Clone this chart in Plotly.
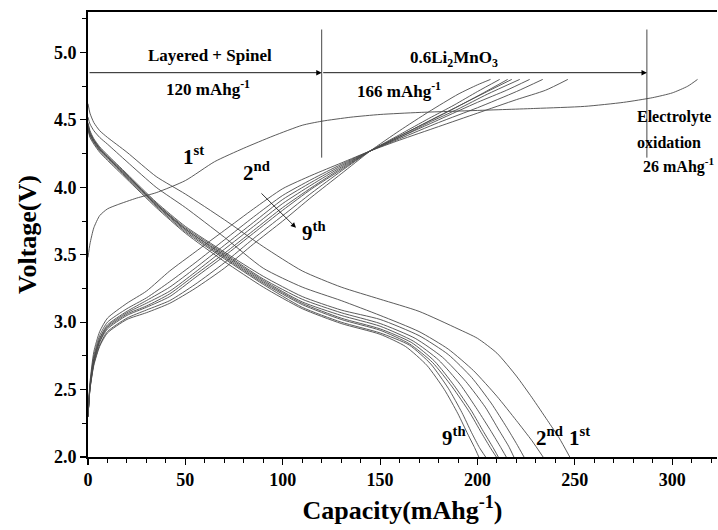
import plotly.graph_objects as go

# ---------------- data ----------------
# Discharge curves, cycles 1..9 : capacity (mAh/g) and voltage (V)
d1_x = [0, 1, 3, 6, 10, 20, 35, 50, 70, 90, 110, 130, 150, 170, 190, 200, 210, 220, 228, 236, 242, 247.4]
d1_y = [4.62, 4.55, 4.48, 4.42, 4.37, 4.26, 4.08, 3.95, 3.76, 3.56, 3.38, 3.26, 3.17, 3.08, 2.95, 2.88, 2.77, 2.60, 2.44, 2.27, 2.14, 2.00]
d2_x = [0, 1, 3, 6, 10, 20, 35, 50, 70, 90, 110, 130, 150, 170, 185, 198, 210, 220, 228, 233.7]
d2_y = [4.52, 4.47, 4.42, 4.37, 4.32, 4.19, 4.00, 3.85, 3.63, 3.40, 3.26, 3.16, 3.05, 2.93, 2.80, 2.64, 2.45, 2.27, 2.12, 2.00]
d3_x = [0, 1, 3, 6, 10, 20, 35, 50, 70, 90, 110, 130, 150, 170, 185, 197, 207, 215, 220, 223.9]
d3_y = [4.48, 4.42, 4.36, 4.30, 4.24, 4.10, 3.89, 3.71, 3.52, 3.34, 3.19, 3.09, 3.02, 2.90, 2.76, 2.59, 2.40, 2.22, 2.10, 2.00]
d4_x = [0, 1, 3, 6, 10, 20, 35, 50, 70, 90, 110, 130, 150, 168, 182, 194, 204, 211, 216, 218.7]
d4_y = [4.47, 4.41, 4.35, 4.29, 4.23, 4.09, 3.88, 3.70, 3.51, 3.32, 3.17, 3.07, 2.99, 2.88, 2.74, 2.56, 2.37, 2.20, 2.08, 2.00]
d5_x = [0, 1, 3, 6, 10, 20, 35, 50, 70, 90, 110, 130, 150, 167, 180, 191, 200, 207, 212, 214.8]
d5_y = [4.46, 4.40, 4.35, 4.29, 4.23, 4.09, 3.88, 3.69, 3.50, 3.31, 3.15, 3.05, 2.97, 2.86, 2.72, 2.54, 2.35, 2.19, 2.07, 2.00]
d6_x = [0, 1, 3, 6, 10, 20, 35, 50, 70, 90, 110, 130, 150, 166, 178, 188, 197, 203, 208, 210.7]
d6_y = [4.45, 4.39, 4.34, 4.28, 4.22, 4.08, 3.87, 3.69, 3.49, 3.30, 3.14, 3.03, 2.95, 2.85, 2.71, 2.53, 2.34, 2.19, 2.07, 2.00]
d7_x = [0, 1, 3, 6, 10, 20, 35, 50, 70, 90, 110, 130, 150, 165, 177, 187, 196, 202, 207, 209.7]
d7_y = [4.45, 4.39, 4.34, 4.28, 4.22, 4.08, 3.87, 3.68, 3.48, 3.29, 3.13, 3.02, 2.94, 2.84, 2.70, 2.52, 2.33, 2.18, 2.06, 2.00]
d8_x = [0, 1, 3, 6, 10, 20, 35, 50, 70, 90, 110, 130, 150, 165, 176, 185, 192, 197, 201, 204.2]
d8_y = [4.44, 4.38, 4.33, 4.27, 4.21, 4.07, 3.86, 3.67, 3.47, 3.28, 3.11, 3.00, 2.92, 2.83, 2.69, 2.51, 2.33, 2.18, 2.07, 2.00]
d9_x = [0, 1, 3, 6, 10, 20, 35, 50, 70, 90, 110, 130, 150, 163, 174, 183, 190, 195, 198.5, 200.7]
d9_y = [4.43, 4.37, 4.32, 4.26, 4.20, 4.06, 3.85, 3.66, 3.45, 3.26, 3.10, 2.99, 2.91, 2.82, 2.68, 2.50, 2.32, 2.17, 2.07, 2.00]

# Charge curves, cycles 1..9
c1_x = [0, 1, 3, 6, 10, 15, 25, 35, 50, 65, 80, 95, 110, 120, 135, 150, 170, 200, 230, 255, 275, 290, 300, 308, 313]
c1_y = [3.48, 3.58, 3.70, 3.79, 3.84, 3.87, 3.92, 3.96, 4.05, 4.19, 4.29, 4.38, 4.46, 4.49, 4.52, 4.54, 4.555, 4.57, 4.585, 4.60, 4.63, 4.665, 4.70, 4.75, 4.80]
c2_x = [0, 1, 3, 6, 10, 20, 30, 42, 55, 70, 85, 100, 115, 130, 145, 160, 180, 200, 220, 235, 246.4]
c2_y = [2.30, 2.55, 2.78, 2.93, 3.03, 3.14, 3.23, 3.38, 3.52, 3.68, 3.84, 3.99, 4.09, 4.18, 4.27, 4.35, 4.45, 4.55, 4.65, 4.72, 4.80]
c3_x = [0, 1, 3, 6, 10, 20, 30, 42, 55, 70, 85, 100, 115, 130, 145, 160, 180, 200, 220, 233.5]
c3_y = [2.30, 2.53, 2.75, 2.90, 3.00, 3.10, 3.18, 3.30, 3.44, 3.61, 3.78, 3.94, 4.06, 4.17, 4.27, 4.36, 4.48, 4.59, 4.71, 4.80]
c4_x = [0, 1, 3, 6, 10, 20, 30, 42, 55, 70, 85, 100, 115, 130, 145, 160, 180, 200, 215, 226.8]
c4_y = [2.30, 2.52, 2.73, 2.88, 2.98, 3.08, 3.16, 3.26, 3.40, 3.57, 3.74, 3.91, 4.04, 4.16, 4.27, 4.37, 4.50, 4.63, 4.72, 4.80]
c5_x = [0, 1, 3, 6, 10, 20, 30, 42, 55, 70, 85, 100, 115, 130, 145, 160, 175, 190, 205, 221.7]
c5_y = [2.30, 2.52, 2.72, 2.87, 2.97, 3.07, 3.14, 3.23, 3.37, 3.54, 3.71, 3.88, 4.02, 4.15, 4.27, 4.37, 4.48, 4.58, 4.69, 4.80]
c6_x = [0, 1, 3, 6, 10, 20, 30, 42, 55, 70, 85, 100, 115, 130, 145, 160, 175, 190, 205, 217.6]
c6_y = [2.30, 2.51, 2.71, 2.86, 2.96, 3.06, 3.12, 3.21, 3.35, 3.51, 3.68, 3.85, 4.00, 4.14, 4.27, 4.38, 4.49, 4.60, 4.71, 4.80]
c7_x = [0, 1, 3, 6, 10, 20, 30, 42, 55, 70, 85, 100, 115, 130, 145, 160, 175, 190, 203, 215.5]
c7_y = [2.30, 2.51, 2.70, 2.85, 2.95, 3.05, 3.11, 3.19, 3.33, 3.49, 3.66, 3.83, 3.99, 4.13, 4.27, 4.38, 4.49, 4.60, 4.70, 4.80]
c8_x = [0, 1, 3, 6, 10, 20, 30, 42, 55, 70, 85, 100, 115, 130, 145, 160, 175, 188, 200, 211.4]
c8_y = [2.30, 2.50, 2.69, 2.83, 2.93, 3.03, 3.09, 3.16, 3.28, 3.44, 3.62, 3.79, 3.96, 4.12, 4.27, 4.39, 4.51, 4.61, 4.71, 4.80]
c9_x = [0, 1, 3, 6, 10, 20, 30, 42, 55, 70, 85, 100, 115, 130, 145, 160, 175, 190, 200, 206.7]
c9_y = [2.30, 2.50, 2.68, 2.82, 2.92, 3.02, 3.07, 3.14, 3.25, 3.40, 3.58, 3.75, 3.93, 4.10, 4.27, 4.42, 4.56, 4.69, 4.76, 4.80]

# Axis ticks
x_ticks = [0, 50, 100, 150, 200, 250, 300]
y_ticks = [2.0, 2.5, 3.0, 3.5, 4.0, 4.5, 5.0]

# Region boundaries (capacity) and labels
boundary_caps = [120, 287]
region_labels = ["Layered + Spinel", "0.6Li<sub>2</sub>MnO<sub>3</sub>"]
region_caps = ["120 mAhg<sup>-1</sup>", "166 mAhg<sup>-1</sup>"]

# ---------------- figure ----------------
FONT = "Liberation Serif, Times New Roman, serif"
LINE_COLOR = "#4a4a4a"

curves = [
    (d1_x, d1_y), (d2_x, d2_y), (d3_x, d3_y), (d4_x, d4_y), (d5_x, d5_y),
    (d6_x, d6_y), (d7_x, d7_y), (d8_x, d8_y), (d9_x, d9_y),
    (c1_x, c1_y), (c2_x, c2_y), (c3_x, c3_y), (c4_x, c4_y), (c5_x, c5_y),
    (c6_x, c6_y), (c7_x, c7_y), (c8_x, c8_y), (c9_x, c9_y),
]

fig = go.Figure()
for xs, ys in curves:
    fig.add_trace(go.Scatter(
        x=xs, y=ys, mode="lines",
        line=dict(color=LINE_COLOR, width=0.9, shape="spline", smoothing=0.6),
        showlegend=False, hoverinfo="skip",
    ))

annotations = []
tfont = dict(family=FONT, size=17, color="black", weight="bold")
efont = dict(family=FONT, size=16, color="black", weight="bold")
lfont = dict(family=FONT, size=21, color="black", weight="bold")

# horizontal arrows at 4.85 V
annotations.append(dict(x=boundary_caps[0], y=4.85, ax=0, ay=4.85, xref="x", yref="y",
                        axref="x", ayref="y", text="", showarrow=True, arrowhead=2,
                        arrowsize=1.2, arrowwidth=0.9, arrowcolor="black", standoff=0))
annotations.append(dict(x=boundary_caps[1], y=4.85, ax=boundary_caps[0], ay=4.85, xref="x", yref="y",
                        axref="x", ayref="y", text="", showarrow=True, arrowhead=2,
                        arrowsize=1.2, arrowwidth=0.9, arrowcolor="black", standoff=0))
# 2nd -> 9th arrow
annotations.append(dict(x=106.8, y=3.70, ax=88.3, ay=3.966, xref="x", yref="y",
                        axref="x", ayref="y", text="", showarrow=True, arrowhead=2,
                        arrowsize=1.3, arrowwidth=0.8, arrowcolor="black", standoff=0))

# region texts
annotations.append(dict(x=62.6, y=4.98, text=region_labels[0], showarrow=False, font=tfont))
annotations.append(dict(x=61.6, y=4.735, text=region_caps[0], showarrow=False, font=tfont))
annotations.append(dict(x=188, y=4.95, text=region_labels[1], showarrow=False, font=tfont))
annotations.append(dict(x=159.8, y=4.725, text=region_caps[1], showarrow=False, font=tfont))
annotations.append(dict(x=281, y=4.52, text="Electrolyte", showarrow=False, font=efont, xanchor="left"))
annotations.append(dict(x=281, y=4.33, text="oxidation", showarrow=False, font=efont, xanchor="left"))
annotations.append(dict(x=284, y=4.16, text="26 mAhg<sup>-1</sup>", showarrow=False, font=efont, xanchor="left"))

# cycle labels
annotations.append(dict(x=54.3, y=4.235, text="1<sup>st</sup>", showarrow=False, font=lfont))
annotations.append(dict(x=86.3, y=4.12, text="2<sup>nd</sup>", showarrow=False, font=lfont))
annotations.append(dict(x=116, y=3.67, text="9<sup>th</sup>", showarrow=False, font=lfont))
annotations.append(dict(x=187.7, y=2.15, text="9<sup>th</sup>", showarrow=False, font=lfont))
annotations.append(dict(x=237, y=2.15, text="2<sup>nd</sup>", showarrow=False, font=lfont))
annotations.append(dict(x=252.6, y=2.15, text="1<sup>st</sup>", showarrow=False, font=lfont))

shapes = []
for bc in boundary_caps:
    shapes.append(dict(type="line", xref="x", yref="y", x0=bc, x1=bc, y0=4.22, y1=5.17,
                       line=dict(color="#333", width=0.9)))

fig.update_layout(
    width=718, height=530,
    margin=dict(l=88, r=1, t=12, b=73, autoexpand=False),
    paper_bgcolor="white", plot_bgcolor="white",
    annotations=annotations, shapes=shapes,
    font=dict(family=FONT, color="black"),
)
fig.update_xaxes(
    range=[0, 323], tickvals=x_ticks, ticks="outside", ticklen=6, tickwidth=1.2,
    tickcolor="black", showline=True, linecolor="black", linewidth=1.8, mirror=True,
    showgrid=False, zeroline=False, automargin=False,
    tickfont=dict(family=FONT, size=18, color="black", weight="bold"),
    minor=dict(dtick=10, tick0=0, ticks="outside", ticklen=4, tickwidth=1, tickcolor="black"),
    title=dict(text="Capacity(mAhg<sup>-1</sup>)", standoff=11,
               font=dict(family=FONT, size=26, color="black", weight="bold")),
)
fig.update_yaxes(
    range=[2.0, 5.3], tickvals=y_ticks, tickformat=".1f", ticks="outside", ticklen=6,
    tickwidth=1.2, tickcolor="black", showline=True, linecolor="black", linewidth=1.8,
    mirror=False, showgrid=False, zeroline=False, automargin=False,
    tickfont=dict(family=FONT, size=18, color="black", weight="bold"),
    minor=dict(dtick=0.25, tick0=2.0, ticks="outside", ticklen=4, tickwidth=1, tickcolor="black"),
    title=dict(text="Voltage(V)", standoff=10,
               font=dict(family=FONT, size=26, color="black", weight="bold")),
)

fig.write_html(
    "out.html",
    config={"displayModeBar": False, "staticPlot": True},
    post_script="document.body.style.margin='0';document.body.style.padding='0';",
)
